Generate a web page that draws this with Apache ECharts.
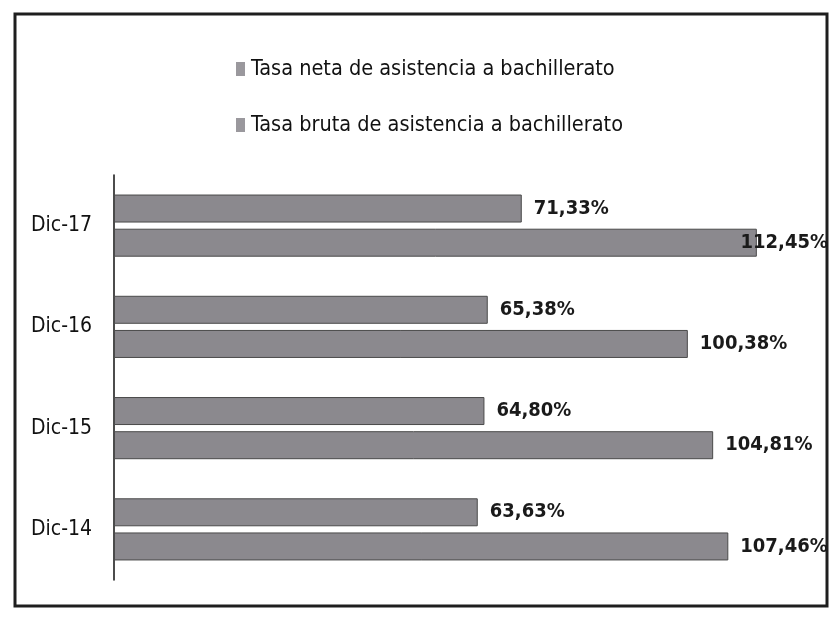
<!DOCTYPE html>
<html><head><meta charset="utf-8">
<script src="https://cdn.jsdelivr.net/npm/echarts@6/dist/echarts.min.js"></script>
<style>html,body{margin:0;padding:0;background:#fff}#c{width:830px;height:619px}</style>
</head><body><div id="c"></div>
<script>
const categories = ['Dic-14', 'Dic-15', 'Dic-16', 'Dic-17'];
const seriesNames = ['Tasa neta de asistencia a bachillerato', 'Tasa bruta de asistencia a bachillerato'];
const netaValues = [63.63, 64.80, 65.38, 71.33];
const brutaValues = [107.46, 104.81, 100.38, 112.45];

const FONT = '"DejaVu Sans Condensed", "Liberation Sans Narrow", Roboto, sans-serif';
const fmt = p => p.value.toFixed(2).replace('.', ',') + '%';
const barStyle = { color: '#8b898e', borderColor: '#4a4a4a', borderWidth: 1 };
const lbl = { show: true, position: 'right', distance: 12, formatter: fmt,
  fontFamily: FONT, fontSize: 20, fontWeight: 'bold', color: '#1a1a1a' };
// keep labels inside the chart frame (like the original chart does)
const keepInside = p => {
  const r = p.labelRect;
  if (r.x + r.width > 828) return { x: 828 - r.width, y: r.y };
  return {};
};

const chart = echarts.init(document.getElementById('c'), null, { renderer: 'canvas' });
chart.setOption({
  backgroundColor: '#ffffff',
  animation: false,
  graphic: [{ type: 'rect', shape: { x: 15, y: 14, width: 812, height: 592 },
    style: { fill: 'none', stroke: '#1e1e1e', lineWidth: 3 }, z: -1 }],
  legend: {
    orient: 'vertical', left: 231, top: 53, itemGap: 34,
    icon: 'rect', itemWidth: 9, itemHeight: 14,
    itemStyle: { color: '#9a989d', borderWidth: 0 },
    textStyle: { fontFamily: FONT, fontSize: 21.5, color: '#111', padding: [0, 0, 0, 1] },
    data: seriesNames
  },
  grid: { left: 114, top: 175, bottom: 39, width: 686 },
  xAxis: { type: 'value', min: 0, max: 120, show: false },
  yAxis: {
    type: 'category', data: categories,
    axisLine: { lineStyle: { color: '#111', width: 1.5 } },
    axisTick: { show: false },
    axisLabel: { fontFamily: FONT, fontSize: 21, color: '#111', margin: 22 }
  },
  series: [
    { name: seriesNames[0], type: 'bar', data: netaValues, barWidth: 28, barGap: '22%',
      itemStyle: barStyle, label: lbl, labelLayout: keepInside },
    { name: seriesNames[1], type: 'bar', data: brutaValues, barWidth: 28, barGap: '22%',
      itemStyle: barStyle, label: lbl, labelLayout: keepInside }
  ]
});
</script></body></html>
